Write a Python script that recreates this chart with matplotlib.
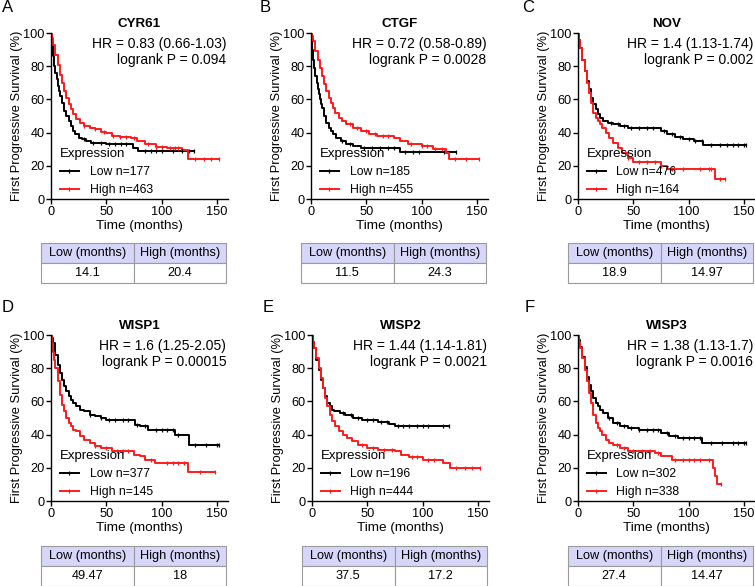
import numpy as np
import matplotlib
matplotlib.use('Agg')
import matplotlib.pyplot as plt
from matplotlib.lines import Line2D

plt.rcParams['font.family'] = ['Liberation Sans', 'DejaVu Sans']

# ---- data ----
letters = ['A', 'B', 'C', 'D', 'E', 'F']
genes = ['CYR61', 'CTGF', 'NOV', 'WISP1', 'WISP2', 'WISP3']
hr_text = ['HR = 0.83 (0.66-1.03)', 'HR = 0.72 (0.58-0.89)', 'HR = 1.4 (1.13-1.74)',
           'HR = 1.6 (1.25-2.05)', 'HR = 1.44 (1.14-1.81)', 'HR = 1.38 (1.13-1.7)']
p_text = ['logrank P = 0.094', 'logrank P = 0.0028', 'logrank P = 0.002',
          'logrank P = 0.00015', 'logrank P = 0.0021', 'logrank P = 0.0016']
n_low = [177, 185, 476, 377, 196, 302]
n_high = [463, 455, 164, 145, 444, 338]
median_low = ['14.1', '11.5', '18.9', '49.47', '37.5', '27.4']
median_high = ['20.4', '24.3', '14.97', '18', '17.2', '14.47']

# KM steps (months, survival %)
low_t = [
    [0, 1, 2, 3, 4, 5, 6, 7, 8, 10, 12, 14, 16, 18, 20, 22, 25, 28, 32, 36, 42, 50, 60, 74, 79, 129],
    [0, 1, 2, 3, 4, 5, 6, 7, 8, 9, 10, 12, 14, 16, 18, 20, 23, 27, 32, 38, 45, 80, 131],
    [0, 1, 2, 4, 6, 8, 10, 12, 14, 16, 18, 20, 23, 27, 32, 38, 45, 60, 75, 80, 88, 95, 105, 113, 152],
    [0, 1, 2, 4, 6, 8, 10, 12, 14, 16, 18, 20, 23, 26, 30, 35, 40, 45, 50, 72, 76, 80, 88, 112, 125, 152],
    [0, 1, 2, 4, 6, 8, 10, 12, 14, 16, 18, 20, 25, 30, 37, 45, 60, 70, 75, 124],
    [0, 1, 2, 4, 6, 8, 10, 12, 14, 16, 18, 20, 23, 27, 32, 38, 45, 55, 75, 82, 90, 112, 152],
]
low_s = [
    [100, 92, 86, 80, 76, 72, 68, 65, 62, 58, 53, 50, 47, 44, 41, 39, 37, 36, 35, 34, 33.5, 33, 33, 31, 29, 29],
    [100, 90, 84, 79, 74, 70, 66, 63, 60, 57, 55, 50, 46, 43, 41, 39, 37, 35, 33, 32, 31, 28.5, 28.5],
    [100, 96, 91, 84, 77, 71, 66, 61, 57, 54, 51, 49, 47, 46, 45, 44, 43, 42.5, 41, 39, 37.5, 36, 35, 32.5, 32.5],
    [100, 98, 95, 88, 82, 77, 73, 69, 66, 63, 61, 59, 57, 55, 54, 52, 51, 50, 49, 49, 46, 45, 43, 40, 34, 34],
    [100, 96, 92, 85, 79, 73, 68, 63, 59, 57, 55, 54, 53, 52, 50, 48.5, 47.5, 46.5, 45, 45],
    [100, 97, 93, 87, 81, 75, 70, 66, 62, 59, 57, 55, 53, 50, 47, 45, 44, 43, 41, 39, 38, 35, 35],
]
high_t = [
    [0, 1, 2, 4, 6, 8, 10, 12, 14, 16, 18, 20, 23, 26, 30, 35, 40, 45, 50, 55, 62, 72, 78, 85, 95, 105, 118, 124, 152],
    [0, 1, 2, 4, 6, 8, 10, 12, 14, 16, 18, 20, 22, 25, 28, 32, 38, 45, 52, 60, 75, 80, 88, 100, 110, 122, 125, 152],
    [0, 1, 2, 4, 6, 8, 10, 12, 14, 16, 18, 20, 22, 25, 28, 32, 36, 40, 45, 50, 75, 80, 124, 133],
    [0, 1, 2, 3, 4, 6, 8, 10, 12, 14, 16, 18, 20, 23, 26, 30, 35, 40, 45, 55, 75, 80, 85, 94, 124, 148],
    [0, 1, 2, 4, 6, 8, 10, 12, 14, 16, 18, 21, 24, 28, 32, 36, 42, 50, 60, 75, 80, 88, 100, 118, 125, 152],
    [0, 1, 2, 4, 6, 8, 10, 12, 14, 16, 18, 20, 22, 25, 28, 32, 38, 45, 70, 75, 85, 122, 124, 126, 129],
]
high_s = [
    [100, 97, 93, 87, 81, 75, 70, 65, 61, 57, 54, 51, 48, 46, 44, 43, 42, 40.5, 39.5, 38, 37.5, 37, 35, 33, 31.5, 30.5, 29.5, 24, 24],
    [100, 98, 95, 89, 84, 79, 74, 69, 65, 61, 58, 55, 52, 49, 47, 45, 43, 41, 39, 38, 36.5, 35, 33, 32, 30, 28, 24, 24],
    [100, 96, 91, 84, 77, 70, 64, 58, 52, 49, 47, 45, 43, 40, 37, 34, 31, 28, 25, 22, 20, 18, 12, 12],
    [100, 95, 90, 85, 80, 72, 64, 58, 54, 50, 47, 45, 43, 42, 39, 37, 35, 33, 32, 30, 28, 27, 25, 23, 17.5, 17.5],
    [100, 96, 92, 86, 80, 74, 68, 62, 57, 52, 48, 45, 42, 40, 38, 36, 34, 32, 31, 30, 28, 26.5, 25, 23, 20, 20],
    [100, 96, 92, 86, 79, 72, 65, 59, 52, 47, 44, 42, 40, 37, 35, 34, 32, 30, 29, 27, 24.5, 20, 15, 10, 10],
]
# censored times (months)
low_cens = [
    [30, 38, 45, 52, 58, 63, 68, 85, 90, 95, 100, 110, 118, 125, 129],
    [28, 35, 48, 55, 62, 70, 75, 85, 92, 98, 120, 131],
    [30, 36, 42, 48, 55, 62, 68, 78, 85, 92, 100, 106, 112, 120, 128, 135, 140, 145, 150, 152],
    [35, 45, 52, 58, 65, 70, 78, 85, 95, 100, 105, 110, 115, 130, 140, 150, 152],
    [28, 35, 42, 50, 55, 62, 68, 78, 82, 88, 95, 100, 105, 118, 124],
    [28, 35, 42, 48, 55, 62, 68, 72, 80, 88, 95, 100, 105, 110, 120, 130, 140, 145, 150, 152],
]
high_cens = [
    [30, 40, 48, 56, 62, 68, 75, 88, 95, 100, 108, 112, 115, 130, 138, 145, 152],
    [35, 42, 50, 58, 65, 70, 90, 100, 105, 112, 118, 130, 140, 152],
    [45, 55, 62, 70, 75, 85, 95, 110, 118, 120, 128, 133],
    [40, 50, 60, 65, 70, 90, 105, 110, 115, 120, 135, 148],
    [45, 55, 65, 72, 90, 95, 105, 110, 130, 138, 145, 152],
    [35, 42, 50, 58, 65, 72, 88, 95, 100, 105, 110, 118, 129],
]

# ---- layout (pixels in a 755x586 figure) ----
W, H = 755, 586
ax_x0 = [51, 311, 578, 51, 312, 578]
ax_y0 = [199, 199, 199, 501, 501, 501]
ax_w, ax_h = 177, 166
tab_x = [41, 301, 568, 41, 302, 568]
tab_y = [243, 243, 243, 546, 546, 546]
tab_w, tab_h = 185, 40
let_x = [3, 260, 523, 3, 263, 525]
let_y = [8, 8, 8, 308, 308, 308]

fig = plt.figure(figsize=(W / 100, H / 100), dpi=100)


def step_value(t, s, x):
    i = np.searchsorted(t, x, side='right') - 1
    return np.asarray(s)[i]


for k in range(6):
    ax = fig.add_axes([ax_x0[k] / W, 1 - ax_y0[k] / H, ax_w / W, ax_h / H])
    ax.step(low_t[k], low_s[k], where='post', color='black', lw=1.4)
    ax.step(high_t[k], high_s[k], where='post', color='#ff1a1a', lw=1.4)
    lc = np.array(low_cens[k])
    hc = np.array(high_cens[k])
    ax.plot(lc, step_value(low_t[k], low_s[k], lc), ls='none', marker='|',
            ms=3.5, mew=0.9, color='black')
    ax.plot(hc, step_value(high_t[k], high_s[k], hc), ls='none', marker='|',
            ms=3.5, mew=0.9, color='#ff1a1a')

    ax.set_xlim(0, 160)
    ax.set_ylim(0, 100)
    ax.set_xticks([0, 50, 100, 150])
    ax.set_yticks([0, 20, 40, 60, 80, 100])
    ax.spines['top'].set_visible(False)
    ax.spines['right'].set_visible(False)
    ax.spines['left'].set_linewidth(1.0)
    ax.spines['bottom'].set_linewidth(1.0)
    ax.tick_params(labelsize=9.2, length=3.5, width=1.0, pad=1.2)
    ax.set_xlabel('Time (months)', fontsize=9.7, labelpad=2)
    ax.set_ylabel('First Progressive Survival (%)', fontsize=9.3, labelpad=0)

    ax.text(0.5, 1.055, genes[k], transform=ax.transAxes, ha='center', va='center',
            fontsize=9.6, fontweight='bold')
    ax.text(0.99, 0.935, hr_text[k], transform=ax.transAxes, ha='right', va='center',
            fontsize=10)
    ax.text(0.99, 0.84, p_text[k], transform=ax.transAxes, ha='right', va='center',
            fontsize=10)

    handles = [Line2D([], [], color='black', lw=1.4, marker='|', ms=3, mew=0.9),
               Line2D([], [], color='#ff1a1a', lw=1.4, marker='|', ms=3, mew=0.9)]
    leg = ax.legend(handles, ['Low n=%d' % n_low[k], 'High n=%d' % n_high[k]],
                    title='Expression', loc='lower left', bbox_to_anchor=(0.0, -0.035),
                    frameon=False, fontsize=8.8, title_fontsize=9.5, borderpad=0.2,
                    handlelength=1.55, handletextpad=0.9, labelspacing=0.5,
                    alignment='left')

    tax = fig.add_axes([tab_x[k] / W, 1 - (tab_y[k] + tab_h) / H, tab_w / W, tab_h / H])
    tax.axis('off')
    tb = tax.table(cellText=[['Low (months)', 'High (months)'],
                             [median_low[k], median_high[k]]],
                   cellColours=[['#d6d6fa', '#d6d6fa'], ['white', 'white']],
                   cellLoc='center', bbox=[0, 0, 1, 1])
    tb.auto_set_font_size(False)
    tb.set_fontsize(9.2)
    for cell in tb.get_celld().values():
        cell.set_edgecolor('#9a9a9a')
        cell.set_linewidth(0.8)

    fig.text((let_x[k] + 5) / W, 1 - let_y[k] / H, letters[k], ha='center', va='center',
             fontsize=12)

fig.savefig('out.png', dpi=100)
